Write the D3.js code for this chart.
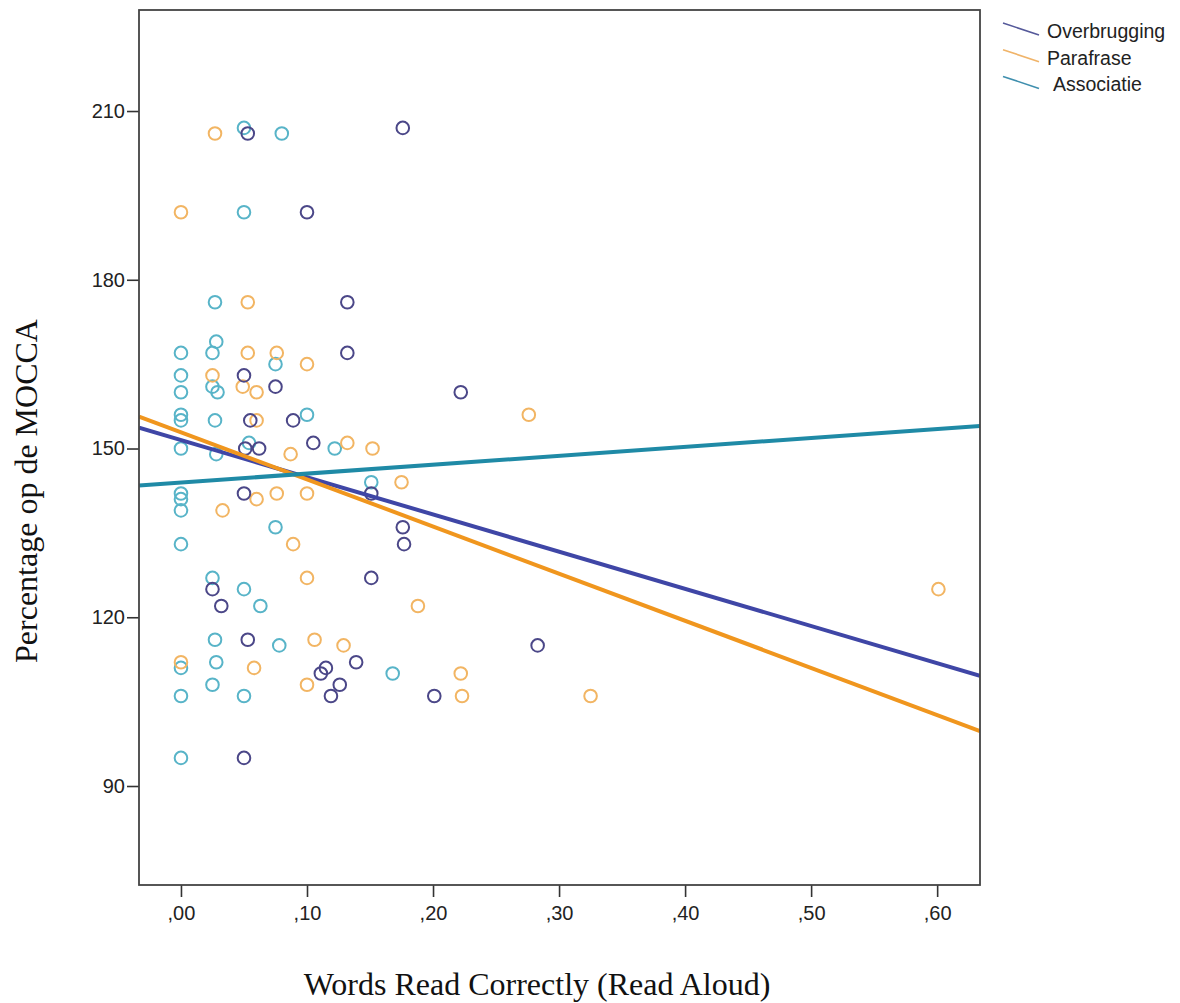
<!DOCTYPE html>
<html>
<head>
<meta charset="utf-8">
<script src="https://cdn.jsdelivr.net/npm/d3@7"></script>
<style>
  html, body { margin: 0; padding: 0; background: #ffffff; }
  svg { display: block; }
</style>
</head>
<body>
<svg id="chart" width="1180" height="1003"></svg>
<script>
// ---------- DATA ----------
const seriesNames = ["Overbrugging", "Parafrase", "Associatie"];

const overbruggingX = [0.176, 0.053, 0.100, 0.132, 0.132, 0.222, 0.050, 0.075, 0.055, 0.089,
                       0.051, 0.062, 0.105, 0.151, 0.050, 0.176, 0.177, 0.151, 0.025, 0.032,
                       0.053, 0.115, 0.111, 0.139, 0.126, 0.119, 0.201, 0.283, 0.050];
const overbruggingY = [207, 206, 192, 176, 167, 160, 163, 161, 155, 155,
                       150, 150, 151, 142, 142, 136, 133, 127, 125, 122,
                       116, 111, 110, 112, 108, 106, 106, 115, 95];

const parafraseX = [0.027, 0.000, 0.053, 0.053, 0.076, 0.100, 0.025, 0.049, 0.060, 0.060,
                    0.087, 0.132, 0.152, 0.276, 0.175, 0.060, 0.076, 0.100, 0.033, 0.089,
                    0.100, 0.188, 0.106, 0.129, 0.000, 0.058, 0.222, 0.100, 0.223, 0.325, 0.601];
const parafraseY = [206, 192, 176, 167, 167, 165, 163, 161, 160, 155,
                    149, 151, 150, 156, 144, 141, 142, 142, 139, 133,
                    127, 122, 116, 115, 112, 111, 110, 108, 106, 106, 125];

const associatieX = [0.050, 0.080, 0.050, 0.027, 0.028, 0.025, 0.000, 0.075, 0.000, 0.025,
                     0.029, 0.000, 0.000, 0.000, 0.027, 0.100, 0.000, 0.028, 0.054, 0.122,
                     0.151, 0.000, 0.000, 0.000, 0.075, 0.000, 0.025, 0.050, 0.063, 0.027,
                     0.078, 0.028, 0.000, 0.168, 0.025, 0.000, 0.050, 0.000];
const associatieY = [207, 206, 192, 176, 169, 167, 167, 165, 163, 161,
                     160, 160, 156, 155, 155, 156, 150, 149, 151, 150,
                     144, 142, 141, 139, 136, 133, 127, 125, 122, 116,
                     115, 112, 111, 110, 108, 106, 106, 95];

// fit lines (intercept at x = 0, slope per unit x)
const lineIntercepts = [151.5, 152.9, 143.95];
const lineSlopes = [-66.1, -83.8, 15.85];

const xTickValues = [0.0, 0.1, 0.2, 0.3, 0.4, 0.5, 0.6];
const xTickLabels = [",00", ",10", ",20", ",30", ",40", ",50", ",60"];
const yTickValues = [90, 120, 150, 180, 210];
const yTickLabels = ["90", "120", "150", "180", "210"];

const xDomain = [-0.0333, 0.634];
const yDomain = [72.4, 227.96];

const xTitle = "Words Read Correctly (Read Aloud)";
const yTitle = "Percentage op de MOCCA";

// ---------- STYLE ----------
const pointColors = ["#4b4788", "#f2b563", "#58b4c8"];
const lineColors = ["#3f46a6", "#f0961e", "#1f8aa6"];
const legendColors = ["#55599a", "#f0b46a", "#3f8fae"];

// ---------- LAYOUT ----------
const svg = d3.select("#chart");
const plot = { left: 139, right: 980, top: 10, bottom: 885 };

const x = d3.scaleLinear().domain(xDomain).range([plot.left, plot.right]);
const y = d3.scaleLinear().domain(yDomain).range([plot.bottom, plot.top]);

svg.append("rect").attr("width", 1180).attr("height", 1003).attr("fill", "#fff");

// clip
svg.append("defs").append("clipPath").attr("id", "clip")
  .append("rect")
  .attr("x", plot.left).attr("y", plot.top)
  .attr("width", plot.right - plot.left).attr("height", plot.bottom - plot.top);

// axes
const xAxis = d3.axisBottom(x)
  .tickValues(xTickValues)
  .tickFormat((d, i) => xTickLabels[i])
  .tickSize(12).tickPadding(9).tickSizeOuter(0);
const gx = svg.append("g").attr("transform", `translate(0,${plot.bottom})`).call(xAxis);
gx.select(".domain").remove();
gx.selectAll(".tick line").attr("stroke", "#333").attr("stroke-width", 1.6);
gx.selectAll(".tick text")
  .attr("font-family", "Liberation Sans, Arial, sans-serif")
  .attr("font-size", 20).attr("fill", "#222");

const yAxis = d3.axisLeft(y)
  .tickValues(yTickValues)
  .tickFormat((d, i) => yTickLabels[i])
  .tickSize(12).tickPadding(2).tickSizeOuter(0);
const gy = svg.append("g").attr("transform", `translate(${plot.left},0)`).call(yAxis);
gy.select(".domain").remove();
gy.selectAll(".tick line").attr("stroke", "#333").attr("stroke-width", 1.6);
gy.selectAll(".tick text")
  .attr("font-family", "Liberation Sans, Arial, sans-serif")
  .attr("font-size", 20).attr("fill", "#222");

// points
const seriesX = [overbruggingX, parafraseX, associatieX];
const seriesY = [overbruggingY, parafraseY, associatieY];
const drawOrder = [2, 1, 0];
const gPts = svg.append("g").attr("clip-path", "url(#clip)");
drawOrder.forEach(s => {
  const pts = seriesX[s].map((v, i) => ({ x: v, y: seriesY[s][i] }));
  gPts.selectAll(null).data(pts).enter().append("circle")
    .attr("cx", d => x(d.x))
    .attr("cy", d => y(d.y))
    .attr("r", 6.3)
    .attr("fill", "none")
    .attr("stroke", pointColors[s])
    .attr("stroke-width", 2);
});

// fit lines
const gLines = svg.append("g").attr("clip-path", "url(#clip)");
[0, 1, 2].forEach(s => {
  const pts = xDomain.map(v => ({ x: v, y: lineIntercepts[s] + lineSlopes[s] * v }));
  gLines.append("path")
    .attr("d", d3.line().x(d => x(d.x)).y(d => y(d.y))(pts))
    .attr("stroke", lineColors[s])
    .attr("stroke-width", 4)
    .attr("fill", "none");
});

// frame
svg.append("rect")
  .attr("x", plot.left).attr("y", plot.top)
  .attr("width", plot.right - plot.left).attr("height", plot.bottom - plot.top)
  .attr("fill", "none").attr("stroke", "#444").attr("stroke-width", 1.8);

// titles
svg.append("text")
  .attr("x", 537).attr("y", 995)
  .attr("text-anchor", "middle")
  .attr("font-family", "Liberation Serif, Times New Roman, serif")
  .attr("font-size", 32).attr("fill", "#111")
  .text(xTitle);

svg.append("text")
  .attr("transform", "translate(37,491) rotate(-90)")
  .attr("text-anchor", "middle")
  .attr("font-family", "Liberation Serif, Times New Roman, serif")
  .attr("font-size", 32).attr("fill", "#111")
  .text(yTitle);

// legend
const legendTextX = [1047, 1047, 1053];
const gLeg = svg.append("g");
seriesNames.forEach((name, i) => {
  const baseY = 38 + i * 26.7;
  gLeg.append("line")
    .attr("x1", 1003).attr("y1", baseY - 15)
    .attr("x2", 1039).attr("y2", baseY - 3)
    .attr("stroke", legendColors[i]).attr("stroke-width", 1.6);
  gLeg.append("text")
    .attr("x", legendTextX[i]).attr("y", baseY)
    .attr("font-family", "Liberation Sans, Arial, sans-serif")
    .attr("font-size", 19.5).attr("fill", "#222")
    .text(name);
});
</script>
</body>
</html>
